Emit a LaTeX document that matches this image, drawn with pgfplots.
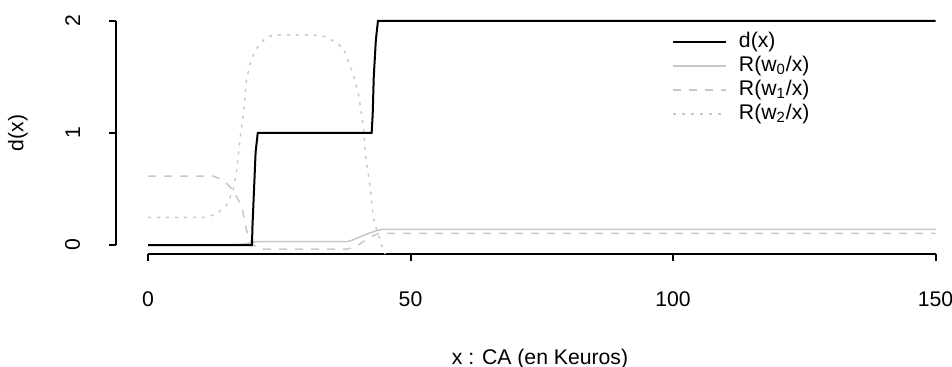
\documentclass[border=0pt]{standalone}
\usepackage{fontspec}
\setmainfont{Liberation Sans}
\usepackage{pgfplots}
\pgfplotsset{compat=1.18}
\definecolor{lgray}{RGB}{200,200,200}
\begin{document}
\fontsize{10.6}{12.7}\selectfont
\begin{tikzpicture}
\useasboundingbox (-58.25pt,-56.5pt) rectangle (417.75pt,127pt);
\begin{axis}[
  at={(0,0)}, anchor=south west,
  scale only axis, width=417.75pt, height=121pt,
  xmin=-6, xmax=153.14, ymin=-0.08, ymax=2.08,
  clip=false,
  axis x line*=bottom, axis y line*=left,
  axis line style={draw=none},
  tick align=outside, major tick length=3.5pt,
  tick style={black, line width=1pt},
  xtick={0,50,100,150}, xticklabels={0,50,100,150},
  ytick={0,1,2}, yticklabels={0,1,2},
  xticklabel style={yshift=-11.5pt},
  yticklabel style={rotate=90, anchor=south, yshift=11pt},
  xlabel={x : CA (en Keuros)},
  xlabel style={at={(axis description cs:0.5069,-0.433)}, anchor=center},
  ylabel={d(x)},
  ylabel style={at={(axis description cs:-0.1179,0.5)}, anchor=center},
  legend style={draw=none, fill=none, at={(axis cs:99.8,1.904)}, anchor=north west,
    inner sep=0pt, outer sep=0pt, row sep=2.05pt, column sep=6pt,
    nodes={inner sep=0pt, text height=7.8pt, text depth=2.2pt}},
  legend cell align=left,
  legend image code/.code={\draw[#1] (0pt,0pt) -- (26.5pt,0pt);},
]
\draw[black, line width=1pt] (axis cs:0,-0.08) -- (axis cs:150,-0.08);
\draw[black, line width=1pt] (axis cs:-6,0) -- (axis cs:-6,2);
% R(w0/x)
\addplot[lgray, line width=0.75pt, forget plot] coordinates {
(0,0) (17.5,0.005) (19,0.015) (20,0.025) (21,0.03) (38,0.03) (39,0.045) (41,0.085) (43,0.12) (44.5,0.14) (150,0.14)};
% R(w1/x)
\addplot[lgray, line width=0.75pt, dash pattern=on 4pt off 4pt, forget plot] coordinates {
(0,0.616) (12.4,0.616) (14.3,0.58) (16.2,0.49) (17.9,0.34) (18.5,0.19) (19.1,0.07) (19.8,0.01) (20.7,-0.02) (22,-0.036) (38,-0.036) (39.5,-0.015) (41,0.03) (42.5,0.075) (44,0.104) (150,0.104)};
% R(w2/x)
\addplot[lgray, line width=0.75pt, dash pattern=on 1.5pt off 3pt, forget plot] coordinates {
(0,0.247) (11.2,0.247) (13.1,0.28) (15,0.357) (16.2,0.49) (16.9,0.67) (17.5,0.94) (18.2,1.18) (18.7,1.46) (19.4,1.61) (20.4,1.74) (22.6,1.86) (25,1.875) (31.5,1.875) (34,1.86) (37.2,1.76) (39.1,1.52) (40.1,1.34) (41,1.07) (41.4,0.82) (42.3,0.52) (42.9,0.25) (43.6,0.13) (44.2,0.045) (44.8,-0.045) (45.2,-0.08)};
% d(x)
\addplot[black, line width=1pt] coordinates {
(0,0) (19.8,0) (19.9,0.17) (20.2,0.5) (20.5,0.83) (20.9,1) (42.6,1) (42.8,1.17) (43.0,1.5) (43.4,1.83) (43.8,2) (150,2)};
\addlegendentry{d(x)}
\addlegendimage{lgray, line width=0.75pt}
\addlegendentry{R(w\textsubscript{0}/x)}
\addlegendimage{lgray, line width=0.75pt, dash pattern=on 4pt off 4pt}
\addlegendentry{R(w\textsubscript{1}/x)}
\addlegendimage{lgray, line width=0.75pt, dash pattern=on 1.5pt off 3pt}
\addlegendentry{R(w\textsubscript{2}/x)}
\end{axis}
\end{tikzpicture}
\end{document}
